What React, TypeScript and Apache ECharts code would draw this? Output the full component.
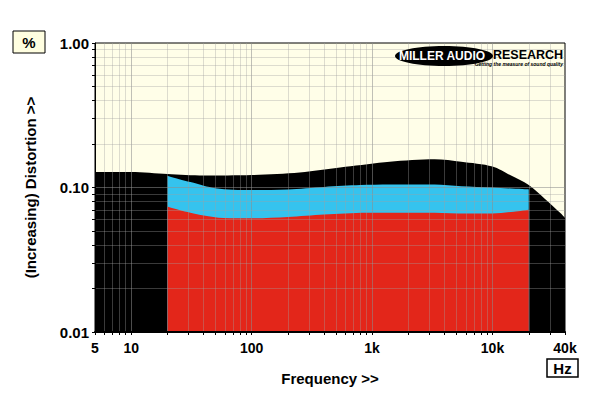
import React, { useEffect, useRef } from "react";
import * as echarts from "echarts";

// Black: overall distortion envelope (5Hz - 40kHz)
const blackFreq = [5, 10, 20, 40, 100, 250, 600, 1400, 3300, 5500, 10000, 14000, 20000, 27000, 37000, 40000];
const blackVal = [0.128, 0.128, 0.124, 0.121, 0.122, 0.127, 0.139, 0.151, 0.157, 0.151, 0.14, 0.122, 0.104, 0.084, 0.066, 0.0615];

// Blue: 20Hz - 20kHz
const blueFreq = [20, 25, 31, 40, 50, 70, 100, 200, 400, 800, 1400, 3300, 5500, 10000, 20000];
const blueVal = [0.12, 0.114, 0.109, 0.103, 0.099, 0.0965, 0.096, 0.097, 0.101, 0.104, 0.105, 0.105, 0.102, 0.1, 0.097];

// Red: 20Hz - 20kHz
const redFreq = [20, 25, 31, 40, 58, 100, 200, 400, 900, 3300, 6000, 10000, 15000, 20000];
const redVal = [0.0736, 0.07, 0.067, 0.064, 0.0615, 0.0612, 0.0625, 0.065, 0.067, 0.067, 0.066, 0.066, 0.068, 0.0702];

// Axis ticks / labels / grid
const xLabelValues = [5, 10, 100, 1000, 10000, 40000];
const xTickValues = [
  5, 6, 7, 8, 9, 10, 20, 30, 40, 50, 60, 70, 80, 90, 100, 200, 300, 400, 500, 600, 700, 800, 900,
  1000, 2000, 3000, 4000, 5000, 6000, 7000, 8000, 9000, 10000, 20000, 30000, 40000,
];
const xMinorGrid = [
  6, 7, 8, 9, 20, 30, 40, 50, 60, 70, 80, 90, 200, 300, 400, 500, 600, 700, 800, 900,
  2000, 3000, 4000, 5000, 6000, 7000, 8000, 9000, 20000, 30000,
];
const xMajorGrid = [10, 100, 1000, 10000];
const yLabelValues = [0.01, 0.1, 1];
const yTickValues = [
  0.01, 0.02, 0.03, 0.04, 0.05, 0.06, 0.07, 0.08, 0.09, 0.1, 0.2, 0.3, 0.4, 0.5, 0.6, 0.7, 0.8, 0.9, 1,
];
const yMinorGrid = [0.02, 0.03, 0.04, 0.05, 0.06, 0.07, 0.08, 0.09, 0.2, 0.3, 0.4, 0.5, 0.6, 0.7, 0.8, 0.9];
const yMajorGrid = [0.1];

const FONT = "Liberation Sans, Arial, sans-serif";

function pairs(f: number[], v: number[]) {
  return f.map((x, i) => [x, v[i]]);
}

function fmtX(v: number) {
  if (v >= 1000) return Math.round(v / 1000) + "k";
  return String(Math.round(v));
}

export default function App() {
  const ref = useRef<HTMLDivElement>(null);
  useEffect(() => {
    if (!ref.current) return;
    const chart = echarts.init(ref.current, undefined, { renderer: "svg" });
    const areaSeries = (name: string, data: number[][], color: string, z: number) => ({
      name,
      type: "line",
      data,
      smooth: 0.3,
      symbol: "none",
      lineStyle: { width: 0 },
      areaStyle: { color, opacity: 1, origin: "start" },
      z,
    });
    const gridLineSeries = (axis: "xAxis" | "yAxis", values: number[], color: string) => ({
      type: "line",
      data: [],
      silent: true,
      z: 10,
      markLine: {
        silent: true,
        symbol: ["none", "none"],
        label: { show: false },
        lineStyle: { type: "solid", width: 1, color },
        data: values.map((v) => ({ [axis]: v })),
      },
    });
    chart.setOption({
      animation: false,
      backgroundColor: "#ffffff",
      grid: {
        left: 95,
        right: 35,
        top: 43,
        bottom: 67,
        show: true,
        backgroundColor: "#FFFEE8",
        borderColor: "#000",
        borderWidth: 1,
      },
      xAxis: {
        type: "log",
        logBase: 10,
        min: 5,
        max: 40000,
        z: 12,
        name: "Frequency >>",
        nameLocation: "middle",
        nameGap: 39,
        nameTextStyle: { fontFamily: FONT, fontWeight: "bold", fontSize: 15, color: "#000" },
        axisLine: { show: true, lineStyle: { color: "#000", width: 2 } },
        axisTick: { show: true, length: 3, customValues: xTickValues, lineStyle: { color: "#000", width: 1 } },
        axisLabel: {
          customValues: xLabelValues,
          formatter: (v: number) => fmtX(v),
          fontFamily: FONT,
          fontWeight: "bold",
          fontSize: 14,
          color: "#000",
          margin: 9,
        },
        splitLine: { show: false },
        minorTick: { show: false },
        minorSplitLine: { show: false },
      },
      yAxis: {
        type: "log",
        logBase: 10,
        min: 0.01,
        max: 1,
        z: 12,
        name: "(Increasing) Distortion >>",
        nameLocation: "middle",
        nameGap: 57,
        nameRotate: 90,
        nameTextStyle: { fontFamily: FONT, fontWeight: "bold", fontSize: 15, color: "#000" },
        axisLine: { show: true, lineStyle: { color: "#000", width: 1 } },
        axisTick: { show: true, length: 3, customValues: yTickValues, lineStyle: { color: "#000", width: 1 } },
        axisLabel: {
          customValues: yLabelValues,
          formatter: (v: number) => Number(v).toFixed(2),
          fontFamily: FONT,
          fontWeight: "bold",
          fontSize: 15,
          color: "#000",
          margin: 6,
        },
        splitLine: { show: false },
        minorTick: { show: false },
        minorSplitLine: { show: false },
      },
      series: [
        areaSeries("Total", pairs(blackFreq, blackVal), "#000000", 2),
        areaSeries("Blue", pairs(blueFreq, blueVal), "#35C3EE", 3),
        areaSeries("Red", pairs(redFreq, redVal), "#E3261A", 4),
        gridLineSeries("xAxis", xMinorGrid, "rgba(160,160,160,0.36)"),
        gridLineSeries("xAxis", xMajorGrid, "rgba(140,140,140,0.55)"),
        gridLineSeries("yAxis", yMinorGrid, "rgba(160,160,160,0.36)"),
        gridLineSeries("yAxis", yMajorGrid, "rgba(140,140,140,0.55)"),
      ],
      graphic: [
        {
          type: "rect",
          z: 20,
          shape: { x: 13, y: 31, width: 32, height: 22 },
          style: { fill: "#FFFEE0", stroke: "#000", lineWidth: 1 },
        },
        {
          type: "text",
          z: 21,
          x: 29,
          y: 42,
          style: {
            text: "%",
            fill: "#000",
            font: `bold 15px ${FONT}`,
            align: "center",
            verticalAlign: "middle",
          },
        },
        {
          type: "rect",
          z: 20,
          shape: { x: 547, y: 359, width: 31, height: 18 },
          style: { fill: "#ffffff", stroke: "#000", lineWidth: 1.5 },
        },
        {
          type: "text",
          z: 21,
          x: 562.5,
          y: 368.5,
          style: {
            text: "Hz",
            fill: "#000",
            font: `bold 15px ${FONT}`,
            align: "center",
            verticalAlign: "middle",
          },
        },
        {
          type: "ellipse",
          z: 20,
          shape: { cx: 444, cy: 56, rx: 49, ry: 10 },
          style: { fill: "#000" },
        },
        {
          type: "text",
          z: 21,
          x: 442,
          y: 56,
          style: {
            text: "MILLER AUDIO",
            fill: "#fff",
            font: `900 12px ${FONT}`,
            align: "center",
            verticalAlign: "middle",
          },
        },
        {
          type: "text",
          z: 21,
          x: 493,
          y: 55,
          style: {
            text: "RESEARCH",
            fill: "#000",
            font: `900 12.5px ${FONT}`,
            align: "left",
            verticalAlign: "middle",
          },
        },
        {
          type: "text",
          z: 21,
          x: 563,
          y: 64,
          style: {
            text: "Getting the measure of sound quality",
            fill: "#000",
            font: `italic bold 5px ${FONT}`,
            align: "right",
            verticalAlign: "middle",
          },
        },
      ],
    });
    return () => chart.dispose();
  }, []);
  return (
    <div
      ref={ref}
      style={{ position: "absolute", left: 0, top: 0, width: 600, height: 399 }}
    />
  );
}
